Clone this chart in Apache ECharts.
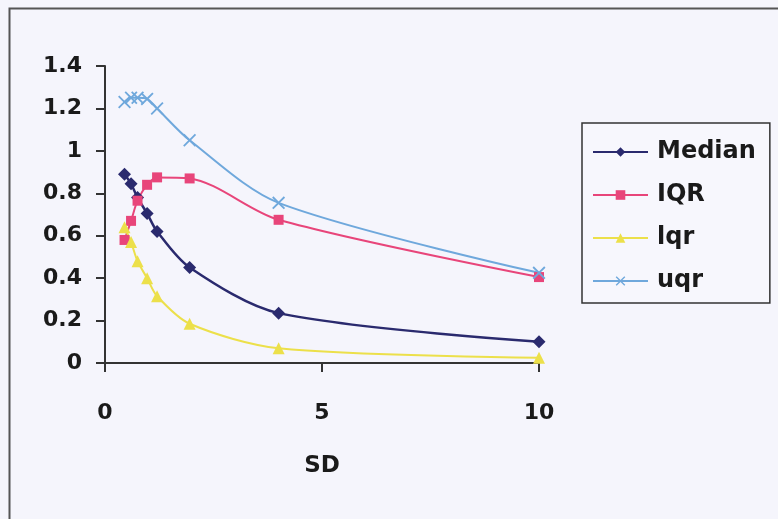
<!DOCTYPE html>
<html>
<head>
<meta charset="utf-8">
<script src="https://cdn.jsdelivr.net/npm/echarts@6/dist/echarts.min.js"></script>
<style>
html,body{margin:0;padding:0;background:#f5f5fc;}
#chart{width:778px;height:519px;}
</style>
</head>
<body>
<div id="chart"></div>
<script>
var sd = [0.45, 0.6, 0.75, 0.97, 1.2, 1.95, 4, 10];
var median = [0.89, 0.845, 0.78, 0.705, 0.62, 0.45, 0.235, 0.10];
var iqr = [0.58, 0.67, 0.765, 0.84, 0.875, 0.87, 0.675, 0.405];
var lqr = [0.64, 0.57, 0.48, 0.40, 0.315, 0.185, 0.07, 0.025];
var uqr = [1.23, 1.25, 1.25, 1.245, 1.2, 1.05, 0.755, 0.425];
var seriesNames = ['Median', 'IQR', 'lqr', 'uqr'];

function pairs(ys) { return sd.map(function (x, i) { return [x, ys[i]]; }); }

var font = '"DejaVu Sans", Verdana, sans-serif';
var crossPath = 'path://M0,1 L1,0 L5,4 L9,0 L10,1 L6,5 L10,9 L9,10 L5,6 L1,10 L0,9 L4,5 Z';

var chart = echarts.init(document.getElementById('chart'));
chart.setOption({
  backgroundColor: '#f5f5fc',
  animation: false,
  graphic: [{
    type: 'rect', left: 7, top: 6, z: -1,
    shape: { x: 0, y: 0, width: 800, height: 600 },
    style: { fill: 'none', stroke: '#555', lineWidth: 2 }
  }],
  grid: { left: 105, top: 66, right: 239, bottom: 156 },
  xAxis: {
    type: 'value', min: 0, max: 10, interval: 5,
    name: 'SD', nameLocation: 'middle', nameGap: 92,
    nameTextStyle: { fontFamily: font, fontWeight: 'bold', fontSize: 23, color: '#1a1a1a' },
    axisLine: { show: true, onZero: false, lineStyle: { color: '#333', width: 2 } },
    axisTick: { show: true, length: 9, lineStyle: { color: '#333', width: 2 } },
    axisLabel: { margin: 39, fontFamily: font, fontWeight: 'bold', fontSize: 22, color: '#1a1a1a' },
    splitLine: { show: false }
  },
  yAxis: {
    type: 'value', min: 0, max: 1.4, interval: 0.2,
    axisLine: { show: true, lineStyle: { color: '#333', width: 2 } },
    axisTick: { show: true, length: 9, lineStyle: { color: '#333', width: 2 } },
    axisLabel: { margin: 23, fontFamily: font, fontWeight: 'bold', fontSize: 22, color: '#1a1a1a',
      formatter: function (v) { return String(Math.round(v * 10) / 10); } },
    splitLine: { show: false }
  },
  legend: {
    orient: 'vertical', left: 582, top: 123,
    padding: [17, 14, 10, 10],
    backgroundColor: '#f7f7fd',
    borderColor: '#333', borderWidth: 1.5,
    itemWidth: 55, itemHeight: 12, itemGap: 19,
    textStyle: { fontFamily: font, fontWeight: 'bold', fontSize: 24, color: '#1a1a1a', padding: [0, 0, 0, 4] },
    data: seriesNames
  },
  series: [
    { name: seriesNames[0], type: 'line', data: pairs(median), smooth: 0.3,
      symbol: 'diamond', symbolSize: 13,
      lineStyle: { color: '#2a2a6e', width: 2.5 }, itemStyle: { color: '#2a2a6e' } },
    { name: seriesNames[1], type: 'line', data: pairs(iqr), smooth: 0.3,
      symbol: 'rect', symbolSize: 10,
      lineStyle: { color: '#e8457a', width: 2 }, itemStyle: { color: '#e8457a' } },
    { name: seriesNames[2], type: 'line', data: pairs(lqr), smooth: 0.3,
      symbol: 'triangle', symbolSize: 12,
      lineStyle: { color: '#ece04a', width: 2 }, itemStyle: { color: '#ece04a' } },
    { name: seriesNames[3], type: 'line', data: pairs(uqr), smooth: 0.3,
      symbol: crossPath, symbolSize: 13,
      lineStyle: { color: '#6fa8dc', width: 2 }, itemStyle: { color: '#6fa8dc' } }
  ]
});
</script>
</body>
</html>
